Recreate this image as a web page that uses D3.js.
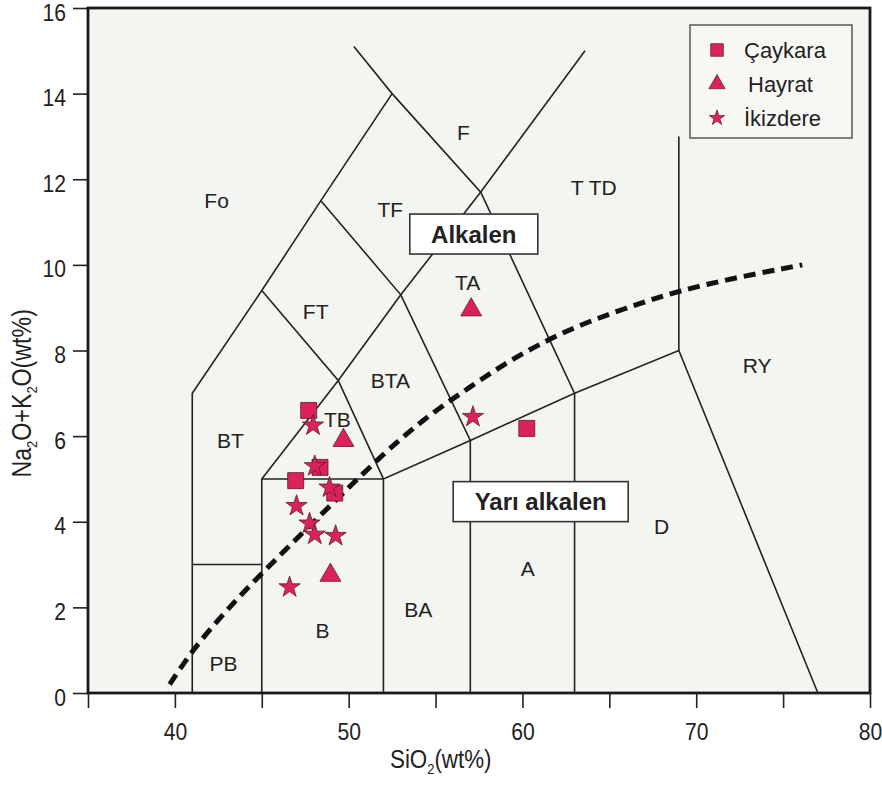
<!DOCTYPE html>
<html>
<head>
<meta charset="utf-8">
<script src="https://cdn.jsdelivr.net/npm/d3@7"></script>
<style>
  body { margin: 0; background: #ffffff; }
  text { font-family: "Liberation Sans", Arial, Helvetica, sans-serif; fill: #222; }
</style>
</head>
<body>
<svg id="chart" width="882" height="787"></svg>
<script>
// ---- Axis ticks ----
const xTicks = [40, 50, 60, 70, 80];
const xMinorTicks = [35, 45, 55, 65, 75];
const yTicks = [0, 2, 4, 6, 8, 10, 12, 14, 16];

// ---- TAS field boundaries (SiO2, Na2O+K2O) ----
const foiditeOuter = [[41, 0], [41, 7], [45, 9.4], [48.4, 11.5], [52.5, 14], [50.3, 15.1]];
const basaltBox = [[45, 0], [45, 5], [52, 5], [52, 0]];
const picrobasaltTop = [[41, 3], [45, 3]];
const trachyDiagonal = [[45, 5], [49.4, 7.3], [53, 9.3], [57.6, 11.7], [63.6, 15]];
const subalkalineTop = [[45, 9.4], [49.4, 7.3], [52, 5], [57, 5.9], [63, 7], [69, 8], [77, 0]];
const andesiteLeft = [[48.4, 11.5], [53, 9.3], [57, 5.9], [57, 0]];
const daciteLeft = [[52.5, 14], [57.6, 11.7], [63, 7], [63, 0]];
const rhyoliteLeft = [[69, 8], [69, 13]];
const fieldBoundaries = [foiditeOuter, basaltBox, picrobasaltTop, trachyDiagonal,
                         subalkalineTop, andesiteLeft, daciteLeft, rhyoliteLeft];

// ---- Alkaline / subalkaline divide ----
const divideSiO2 = [39.7, 41, 43, 45, 48, 51, 53, 55, 57, 59, 61, 63, 66, 69, 72.5, 76.1];
const divideAlk  = [0.2, 1.0, 1.95, 2.8, 4.0, 5.2, 5.95, 6.6, 7.15, 7.7, 8.15, 8.55, 9.0, 9.4, 9.72, 10.0];

// ---- Field names ----
const fieldNames    = ["Fo", "F", "TF", "T TD", "FT", "BTA", "TA", "BT", "TB", "RY", "D", "A", "BA", "B", "PB"];
const fieldNameSiO2 = [42.4, 56.6, 52.4, 64.1, 48.1, 52.4, 56.85, 43.2, 49.35, 73.5, 68.0, 60.3, 54.0, 48.5, 42.8];
const fieldNameAlk  = [11.5, 13.1, 11.3, 11.8, 8.9, 7.3, 9.6, 5.9, 6.4, 7.65, 3.9, 2.9, 1.95, 1.45, 0.7];

// ---- Samples ----
const groups = ["Çaykara", "Hayrat", "İkizdere"];
const caykaraSiO2 = [47.7, 48.35, 46.95, 49.2, 60.25];
const caykaraAlk  = [6.6, 5.27, 4.96, 4.67, 6.18];
const hayratSiO2  = [49.7, 48.95, 57.05];
const hayratAlk   = [5.9, 2.75, 8.95];
const ikizdereSiO2 = [47.95, 48.05, 48.9, 47.0, 47.75, 48.05, 49.25, 46.6, 57.15];
const ikizdereAlk  = [6.25, 5.3, 4.8, 4.37, 3.96, 3.7, 3.67, 2.47, 6.45];

const svg = d3.select("#chart");
const x = d3.scaleLinear().domain([35, 80]).range([88, 870]);
const y = d3.scaleLinear().domain([0, 16]).range([693, 8]);

const markColor = "#dc2359";
const markStroke = "#5b1a2c";

// Plot background
svg.append("rect")
  .attr("x", x(35)).attr("y", y(16))
  .attr("width", x(80) - x(35)).attr("height", y(0) - y(16))
  .attr("fill", "#f3f5f0");

// Field boundaries
const line = d3.line().x(d => x(d[0])).y(d => y(d[1]));
svg.append("g")
  .selectAll("path")
  .data(fieldBoundaries)
  .join("path")
  .attr("d", line)
  .attr("fill", "none")
  .attr("stroke", "#222")
  .attr("stroke-width", 1.6)
  .attr("stroke-linejoin", "miter");

// Alkaline divide (dashed)
const divide = divideSiO2.map((s, i) => [s, divideAlk[i]]);
svg.append("path")
  .datum(divide)
  .attr("d", d3.line().x(d => x(d[0])).y(d => y(d[1])).curve(d3.curveBasis))
  .attr("fill", "none")
  .attr("stroke", "#111")
  .attr("stroke-width", 5)
  .attr("stroke-dasharray", "12,7");

// Field names
svg.append("g")
  .selectAll("text")
  .data(fieldNames)
  .join("text")
  .attr("x", (d, i) => x(fieldNameSiO2[i]))
  .attr("y", (d, i) => y(fieldNameAlk[i]))
  .attr("text-anchor", "middle")
  .attr("dominant-baseline", "central")
  .attr("font-size", 21)
  .text(d => d);

// Series boxes
function seriesBox(label, cx, cy, w, h) {
  const g = svg.append("g");
  g.append("rect")
    .attr("x", cx - w / 2).attr("y", cy - h / 2)
    .attr("width", w).attr("height", h)
    .attr("fill", "#ffffff").attr("stroke", "#333").attr("stroke-width", 1.6);
  g.append("text")
    .attr("x", cx).attr("y", cy)
    .attr("text-anchor", "middle").attr("dominant-baseline", "central")
    .attr("font-size", 24).attr("font-weight", "bold")
    .text(label);
}
seriesBox("Alkalen", x(57.2), y(10.72), 128, 40);
seriesBox("Yarı alkalen", x(61.05), y(4.47), 175, 40);

// Symbols
const symSquare = d3.symbol().type(d3.symbolSquare);
const symTriangle = d3.symbol().type(d3.symbolTriangle);
const symStar = d3.symbol().type(d3.symbolStar);

function drawSamples(sx, sy, gen, size) {
  svg.append("g")
    .selectAll("path")
    .data(sx.map((s, i) => [s, sy[i]]))
    .join("path")
    .attr("transform", d => `translate(${x(d[0])},${y(d[1])})`)
    .attr("d", gen.size(size)())
    .attr("fill", markColor)
    .attr("stroke", markStroke)
    .attr("stroke-width", 0.8);
}
drawSamples(caykaraSiO2, caykaraAlk, symSquare, 256);
drawSamples(hayratSiO2, hayratAlk, symTriangle, 190);
drawSamples(ikizdereSiO2, ikizdereAlk, symStar, 140);

// Axes
const xAxis = svg.append("g").attr("transform", `translate(0,${y(0)})`);
xAxis.call(d3.axisBottom(x).tickValues(xTicks.concat(xMinorTicks)).tickSize(15)
  .tickFormat(d => xTicks.includes(d) ? d : ""));
const yAxis = svg.append("g").attr("transform", `translate(${x(35)},0)`);
yAxis.call(d3.axisLeft(y).tickValues(yTicks).tickSize(15));

[xAxis, yAxis].forEach(a => {
  a.select(".domain").remove();
  a.selectAll(".tick line").attr("stroke", "#222").attr("stroke-width", 1.6);
  a.selectAll(".tick text").attr("font-size", 24).attr("fill", "#222")
    .attr("font-family", "Liberation Sans, Arial, sans-serif");
});
xAxis.selectAll(".tick text").attr("y", 30).attr("dy", "0.72em")
  .attr("transform", "scale(0.88,1)");
yAxis.selectAll(".tick text").attr("x", -25).attr("dy", "0.5em")
  .attr("transform", "scale(0.88,1)");

// Frame
svg.append("rect")
  .attr("x", x(35)).attr("y", y(16))
  .attr("width", x(80) - x(35)).attr("height", y(0) - y(16))
  .attr("fill", "none").attr("stroke", "#1a1a1a").attr("stroke-width", 2.8);

// Axis titles
const xTitle = svg.append("text")
  .attr("x", 0).attr("y", 0)
  .attr("transform", `translate(${x(55.3)},768) scale(0.86,1)`)
  .attr("text-anchor", "middle").attr("font-size", 26);
xTitle.append("tspan").text("SiO");
xTitle.append("tspan").attr("font-size", 15).attr("dy", 6).text("2");
xTitle.append("tspan").attr("dy", -6).text("(wt%)");

const yTitle = svg.append("text")
  .attr("transform", `translate(31,${y(7.0)}) rotate(-90) scale(0.86,1)`)
  .attr("text-anchor", "middle").attr("font-size", 27);
yTitle.append("tspan").text("Na");
yTitle.append("tspan").attr("font-size", 15).attr("dy", 6).text("2");
yTitle.append("tspan").attr("dy", -6).text("O+K");
yTitle.append("tspan").attr("font-size", 15).attr("dy", 6).text("2");
yTitle.append("tspan").attr("dy", -6).text("O(wt%)");

// Legend
const legend = svg.append("g");
legend.append("rect")
  .attr("x", 690).attr("y", 25).attr("width", 162).attr("height", 113)
  .attr("fill", "#f7f8f4").attr("stroke", "#555").attr("stroke-width", 1.5);
const legendGens = [symSquare.size(160)(), symTriangle.size(115)(), symStar.size(75)()];
groups.forEach((name, i) => {
  const cy = 50 + i * 34;
  legend.append("path")
    .attr("transform", `translate(717,${cy})`)
    .attr("d", legendGens[i])
    .attr("fill", markColor).attr("stroke", markStroke).attr("stroke-width", 0.7);
  legend.append("text")
    .attr("x", i === 1 ? 748 : 744).attr("y", cy)
    .attr("dominant-baseline", "central")
    .attr("font-size", 22)
    .text(name);
});
</script>
</body>
</html>
